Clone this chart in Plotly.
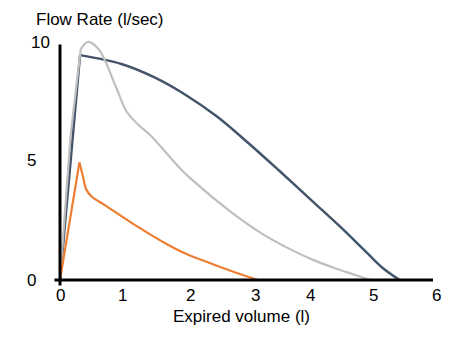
import plotly.graph_objects as go

# ---- data ----
blue_x = [0.0, 0.32, 0.98, 1.5, 2.0, 2.5, 3.0, 3.5, 4.0, 4.5, 4.9, 5.16, 5.42]
blue_y = [0.0, 9.37, 9.0, 8.45, 7.72, 6.82, 5.72, 4.55, 3.35, 2.15, 1.13, 0.48, 0.0]
blue_peak = 1

gray_x = [0.0, 0.17, 0.33, 0.445, 0.6, 0.71, 0.9, 1.06, 1.245, 1.43, 1.91, 2.1, 2.71, 3.24, 3.6, 4.0, 4.4, 4.7, 4.95]
gray_y = [0.0, 6.06, 9.6, 9.92, 9.67, 9.19, 8.0, 7.03, 6.48, 6.06, 4.67, 4.19, 2.87, 1.9, 1.38, 0.88, 0.48, 0.22, 0.0]
gray_peak = 2

orange_x = [0.0, 0.31, 0.365, 0.42, 0.5, 0.74, 1.27, 1.7, 2.02, 2.44, 2.87, 3.16]
orange_y = [0.0, 4.9, 4.33, 3.77, 3.49, 3.08, 2.17, 1.5, 1.08, 0.66, 0.25, 0.0]
orange_peak = 1

x_ticks = [0, 1, 2, 3, 4, 5, 6]
x_tick_labels = ["0", "1", "2", "3", "4", "5", "6"]
y_ticks = [0, 5, 10]
y_tick_labels = ["0", "5", "10"]

title_text = "Flow Rate (l/sec)"
x_title = "Expired volume (l)"

FONT = "Liberation Sans, Arial, sans-serif"
PLOT_W = 376
PLOT_H = 240
L = 60

fig = go.Figure()


def add_series(xs, ys, k, color, width):
    # straight rise to the peak, smooth fall afterwards
    fig.add_trace(go.Scatter(x=xs[:k + 1], y=ys[:k + 1], mode="lines",
                             line=dict(color=color, width=width)))
    fig.add_trace(go.Scatter(x=xs[k:], y=ys[k:], mode="lines",
                             line=dict(color=color, width=width, shape="spline", smoothing=1.0)))


add_series(blue_x, blue_y, blue_peak, "#44546A", 2.5)
add_series(gray_x, gray_y, gray_peak, "#BFBFBF", 2.2)
add_series(orange_x, orange_y, orange_peak, "#ED7D31", 2.2)

annotations = []
x_shift = [0, 0, 5, 7, 0, 0, 0]
for v, t, s in zip(x_ticks, x_tick_labels, x_shift):
    annotations.append(dict(x=v, xref="x", y=0, yref="paper", text=t, showarrow=False,
                            xanchor="center", yanchor="middle", yshift=-15.5, xshift=s,
                            font=dict(family=FONT, size=17, color="black")))
y_xshift = {"0": -22, "5": -22, "10": -8}
y_yshift = {"0": 0, "5": 0, "10": -2}
for v, t in zip(y_ticks, y_tick_labels):
    annotations.append(dict(x=0, xref="paper", y=v, yref="y", text=t, showarrow=False,
                            xanchor="right", yanchor="middle", xshift=y_xshift[t], yshift=y_yshift[t],
                            font=dict(family=FONT, size=17, color="black")))
annotations.append(dict(x=0.5, xref="paper", y=0, yref="paper", text=x_title, showarrow=False,
                        xanchor="center", yanchor="middle", xshift=-6.5, yshift=-36.5,
                        font=dict(family=FONT, size=17, color="black")))
annotations.append(dict(x=(34 - L) / PLOT_W, xref="paper", y=1, yref="paper", text=title_text,
                        showarrow=False, xanchor="left", yanchor="middle", yshift=21,
                        font=dict(family=FONT, size=17, color="black")))

shapes = [
    dict(type="line", xref="paper", yref="paper", x0=0, x1=0, y0=-5.5 / PLOT_H, y1=(280.5 - 45) / PLOT_H,
         line=dict(color="black", width=3)),
    dict(type="line", xref="paper", yref="paper", x0=-5.5 / PLOT_W, x1=(433 - L) / PLOT_W, y0=0, y1=0,
         line=dict(color="black", width=3)),
]

fig.update_layout(
    width=465, height=344,
    margin=dict(l=L, r=29, t=40, b=64),
    paper_bgcolor="white", plot_bgcolor="white",
    showlegend=False,
    xaxis=dict(range=[0, 6], showgrid=False, zeroline=False, showline=False,
               showticklabels=False, ticks=""),
    yaxis=dict(range=[0, 10], showgrid=False, zeroline=False, showline=False,
               showticklabels=False, ticks=""),
    annotations=annotations,
    shapes=shapes,
)

fig.write_html("out.html")
